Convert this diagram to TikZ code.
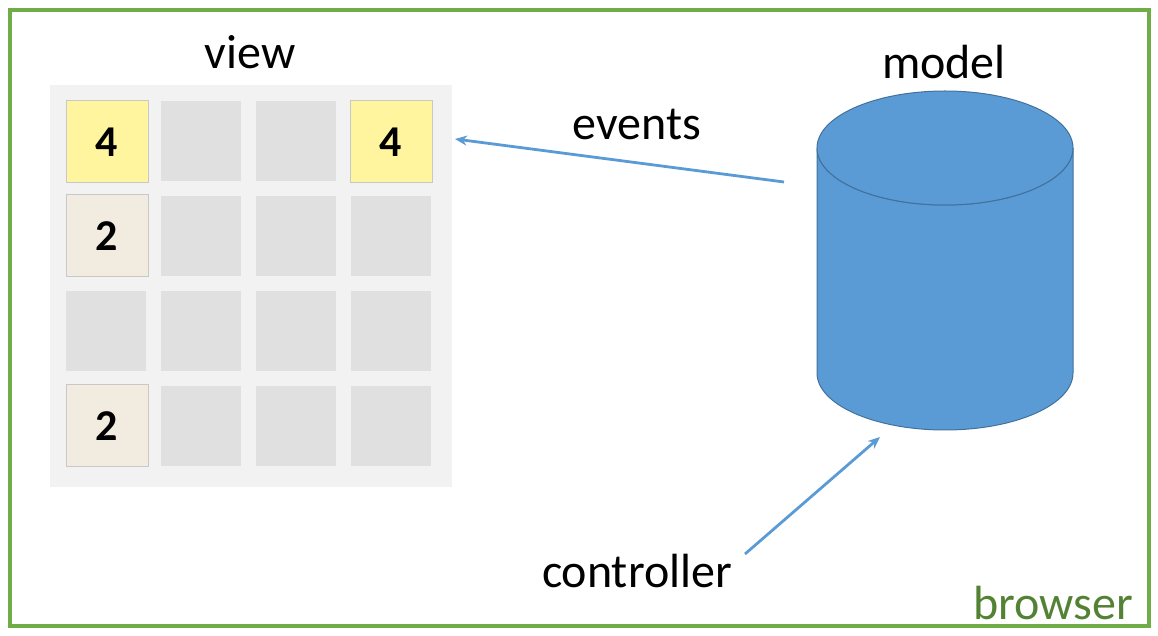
\documentclass[tikz,border=0pt]{standalone}
\usepackage{fontspec}
\setmainfont{Carlito}
\usetikzlibrary{arrows.meta}
\definecolor{frameGreen}{HTML}{70AD47}
\definecolor{labelGreen}{HTML}{548235}
\definecolor{modelBlue}{HTML}{5B9BD5}
\definecolor{modelEdge}{HTML}{41719C}
\definecolor{panelGray}{HTML}{F2F2F2}
\definecolor{cellGray}{HTML}{E0E0E0}
\definecolor{tileFour}{HTML}{FFF59F}
\definecolor{tileTwo}{HTML}{F2EBDF}
\definecolor{tileEdge}{HTML}{C8C8C8}
\begin{document}
\begin{tikzpicture}[
x=0.5pt, y=-0.5pt,
label/.style={font=\fontsize{24}{28}\selectfont},
cell/.style={fill=cellGray, minimum size=40pt, inner sep=0pt},
tile/.style={draw=tileEdge, line width=0.5pt, minimum size=41pt, inner sep=0pt, font=\fontsize{22}{26}\selectfont\bfseries},
flow/.style={draw=modelBlue, line width=1.4pt, -{Stealth[length=6pt,width=5pt]}}
]
\useasboundingbox (0,0) rectangle (1158,636);
\draw[frameGreen, line width=2pt] (10,10) rectangle (1149,626);
\node[label, text=labelGreen] (browser) at (1053,603) {browser};

% view: the board
\node[label] (view) at (250,52) {view};
\fill[panelGray] (50,85) rectangle (452,487);
\foreach \i in {0,...,3}
  \foreach \j in {0,...,3}
    \node[cell] (cell-\i-\j) at (106+95*\i, 141+95*\j) {};
\node[tile, fill=tileFour] (tile-0-0) at (107,142) {4};
\node[tile, fill=tileFour] (tile-3-0) at (391,142) {4};
\node[tile, fill=tileTwo] (tile-0-1) at (107,236) {2};
\node[tile, fill=tileTwo] (tile-0-3) at (107,426) {2};

% model
\node[label] (model) at (944,62) {model};
\filldraw[fill=modelBlue, draw=modelEdge, line width=0.5pt]
  (817,148) -- (817,373) arc[start angle=180, end angle=0, x radius=128, y radius=57]
  -- (1073,148) arc[start angle=0, end angle=180, x radius=128, y radius=57] -- cycle;
\filldraw[fill=modelBlue, draw=modelEdge, line width=0.5pt]
  (945,148) ellipse[x radius=128, y radius=57];

% events and controller
\node[label] (events) at (637,125) {events};
\node[label] (controller) at (637,571) {controller};
\coordinate (events-src) at (784,182);
\coordinate (board-edge) at (455,139);
\coordinate (ctrl-src) at (745,554);
\coordinate (model-base) at (880,437);
\draw[flow] (events-src) -- (board-edge);
\draw[flow] (ctrl-src) -- (model-base);
\end{tikzpicture}
\end{document}
